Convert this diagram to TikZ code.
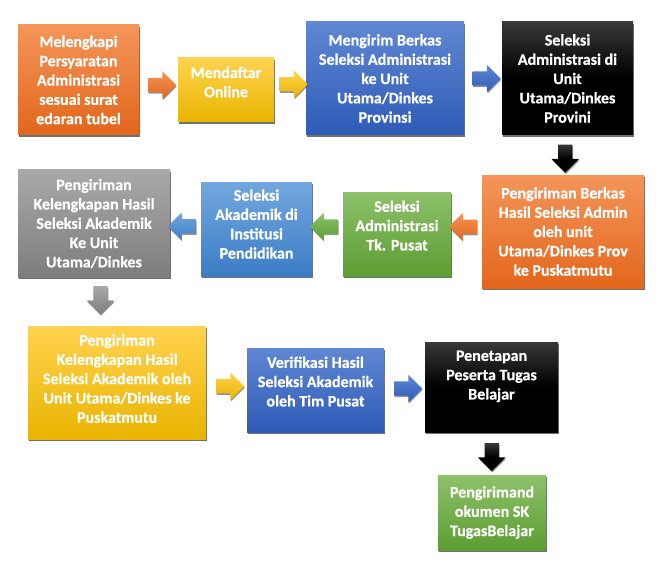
\documentclass[tikz,border=0pt]{standalone}
\usepackage{fontspec}
\setmainfont{Carlito}[Extension=.ttf,UprightFont=*-Regular,BoldFont=*-Bold,BoldFeatures={FakeBold=0.6}]
\usetikzlibrary{calc,shapes.arrows,shadows}

\definecolor{orTop}{HTML}{F4955A}
\definecolor{orBot}{HTML}{E2661B}
\definecolor{yeTop}{HTML}{FFD34F}
\definecolor{yeBot}{HTML}{E8B400}
\definecolor{blTop}{HTML}{5F87D2}
\definecolor{blBot}{HTML}{2E5BB7}
\definecolor{skTop}{HTML}{72A7DE}
\definecolor{skBot}{HTML}{3C7DC6}
\definecolor{grTop}{HTML}{8DC16B}
\definecolor{grBot}{HTML}{5C9D31}
\definecolor{gyTop}{HTML}{A9A9A9}
\definecolor{gyBot}{HTML}{7D7D7D}

\begin{document}
\begin{tikzpicture}[x=1pt,y=-1pt,
  box/.style={rectangle,inner sep=2pt,align=center,text=white,
    font=\bfseries\fontsize{16}{19.3}\selectfont,
    drop shadow={shadow xshift=.6pt,shadow yshift=-2.2pt,opacity=.8,fill=black!70}},
  blockarrow/.style={single arrow,inner sep=7pt,minimum height=28pt,
    single arrow head extend=6.5pt,
    drop shadow={shadow xshift=.6pt,shadow yshift=-1.5pt,opacity=.6,fill=black!70}},
  goleft/.style={shape border rotate=180},
  godown/.style={shape border rotate=270},
  orangefill/.style={top color=orTop,bottom color=orBot},
  yellowfill/.style={top color=yeTop,bottom color=yeBot},
  bluefill/.style={top color=blTop,bottom color=blBot},
  skyfill/.style={top color=skTop,bottom color=skBot},
  greenfill/.style={top color=grTop,bottom color=grBot},
  greyfill/.style={top color=gyTop,bottom color=gyBot},
  blackfill/.style={top color=black!78,bottom color=black,middle color=black}]
  \useasboundingbox (0,0) rectangle (663,564);

  % first row, left to right
  \node[box,orangefill,minimum width=121,minimum height=110] (lengkap) at (78.5,80)
    {Melengkapi\\Persyaratan\\Administrasi\\sesuai surat\\edaran tubel};
  \node[box,yellowfill,minimum width=96,minimum height=64,text depth=16pt] (daftar) at (226,90)
    {Mendaftar\\Online};
  \node[box,bluefill,minimum width=158,minimum height=113] (kirim) at (385,78.5)
    {Mengirim Berkas\\Seleksi Administrasi\\ke Unit\\Utama/Dinkes\\Provinsi};
  \node[box,blackfill,minimum width=131,minimum height=113] (seladm) at (567.5,78.5)
    {Seleksi\\Administrasi di\\Unit\\Utama/Dinkes\\Provini};

  % second row, right to left
  \node[box,orangefill,minimum width=162,minimum height=113] (kirimberkas) at (563,231.5)
    {Pengiriman Berkas\\Hasil Seleksi Admin\\oleh unit\\Utama/Dinkes Prov\\ke Puskatmutu};
  \node[box,greenfill,minimum width=108,minimum height=84,text depth=17pt] (selpusat) at (397,234)
    {Seleksi\\Administrasi\\Tk. Pusat};
  \node[box,skyfill,minimum width=111,minimum height=94,text depth=10pt] (selakad) at (256.5,229)
    {Seleksi\\Akademik di\\Institusi\\Pendidikan};
  \node[box,greyfill,minimum width=152,minimum height=107] (kirimlengkap) at (94,223.5)
    {Pengiriman\\Kelengkapan Hasil\\Seleksi Akademik\\Ke Unit\\Utama/Dinkes};

  % third row and the last step
  \node[box,yellowfill,minimum width=178,minimum height=113,text depth=8pt] (kirimhasil) at (117,382.5)
    {Pengiriman\\Kelengkapan Hasil\\Seleksi Akademik oleh\\Unit Utama/Dinkes ke\\Puskatmutu};
  \node[box,bluefill,minimum width=137,minimum height=84,text depth=17pt] (verif) at (315.5,390)
    {Verifikasi Hasil\\Seleksi Akademik\\oleh Tim Pusat};
  \node[box,blackfill,minimum width=133,minimum height=90,text depth=24pt] (tetap) at (491.5,387)
    {Penetapan\\Peserta Tugas\\Belajar};
  \node[box,greenfill,minimum width=108,minimum height=75] (sk) at (492,512.5)
    {Pengirimand\\okumen SK\\TugasBelajar};

  % block arrows between the steps
  \node[blockarrow,orangefill] (a1) at ($(lengkap.east)!.5!(daftar.west)$) {};
  \node[blockarrow,yellowfill] (a2) at ($(daftar.east)!.5!(kirim.west)$) {};
  \node[blockarrow,bluefill] (a3) at ($(kirim.east)!.5!(seladm.west)$) {};
  \node[blockarrow,blackfill,godown] (a4) at ($(seladm.south)!.5!(kirimberkas.north)$) {};
  \node[blockarrow,orangefill,goleft] (a5) at ($(kirimberkas.west)!.5!(selpusat.east)+(0,-6)$) {};
  \node[blockarrow,greenfill,goleft] (a6) at ($(selpusat.west)!.5!(selakad.east)+(0,-5)$) {};
  \node[blockarrow,skyfill,goleft] (a7) at ($(selakad.west)!.5!(kirimlengkap.east)$) {};
  \node[blockarrow,greyfill,godown] (a8) at ($(kirimlengkap.south)!.5!(kirimhasil.north)+(-5,-5)$) {};
  \node[blockarrow,yellowfill] (a9) at ($(kirimhasil.east)!.5!(verif.west)$) {};
  \node[blockarrow,bluefill] (a10) at ($(verif.east)!.5!(tetap.west)$) {};
  \node[blockarrow,blackfill,godown] (a11) at ($(tetap.south)!.5!(sk.north)$) {};
\end{tikzpicture}
\end{document}
